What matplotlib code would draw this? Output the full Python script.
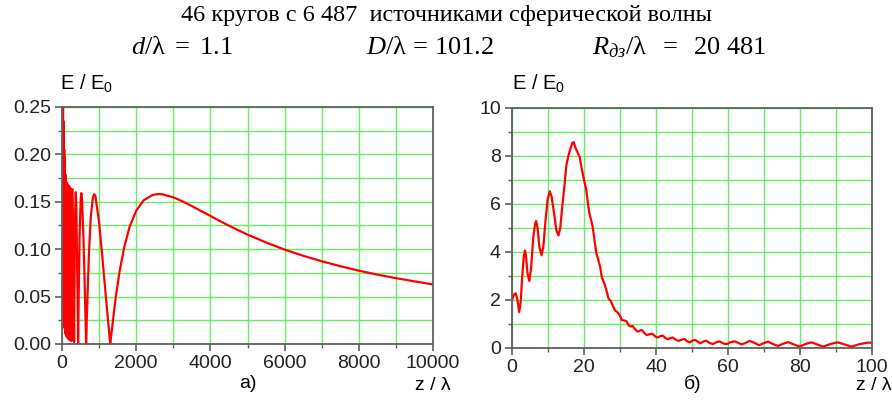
import numpy as np
import matplotlib
matplotlib.use('Agg')
import matplotlib.pyplot as plt
from matplotlib.ticker import MultipleLocator

plt.rcParams['font.family'] = ['Liberation Sans', 'DejaVu Sans']
plt.rcParams['mathtext.fontset'] = 'custom'
plt.rcParams['mathtext.rm'] = 'Liberation Serif'
plt.rcParams['mathtext.it'] = 'Liberation Serif:italic'
plt.rcParams['mathtext.sf'] = 'Liberation Sans'

# panel a) : E/E0 vs z/lambda, 0..10000
z_a = [5, 8, 12, 16, 20, 24, 28, 32, 36, 40, 44, 48, 52, 56, 60, 63, 66, 67.5, 69, 71,
       73, 75, 78, 80, 83, 85, 88, 91, 95, 98, 102, 107, 111, 116, 122, 128, 135, 142,
       151, 160, 171, 183, 197, 213, 233, 256, 284, 326,
       335, 355, 372, 385, 410, 428, 435,
       445, 475, 505, 521, 540, 580, 620, 640, 650,
       675, 725, 775, 830, 868, 900, 1000, 1100, 1200, 1275, 1300,
       1325, 1450, 1550, 1675, 1825, 2000, 2200, 2450, 2600, 2700, 3000, 3250, 3500, 3750,
       4000, 4250, 4500, 4750, 5000, 5500, 6000, 6500, 7000, 7500, 8000, 8500, 9000,
       9500, 10000]
e_a = [0.32, 0.04, 0.29, 0.04, 0.27, 0.035, 0.255, 0.03, 0.235, 0.03, 0.225, 0.025, 0.215,
       0.025, 0.205, 0.02, 0.197, 0.02, 0.192, 0.018, 0.187, 0.017, 0.183, 0.015, 0.18,
       0.014, 0.178, 0.012, 0.175, 0.011, 0.172, 0.01, 0.171, 0.009, 0.17, 0.008, 0.169,
       0.007, 0.168, 0.006, 0.167, 0.005, 0.166, 0.004, 0.164, 0.003, 0.163, 0.002,
       0.055, 0.137, 0.16, 0.147, 0.083, 0.021, 0.0,
       0.036, 0.115, 0.153, 0.159, 0.152, 0.110, 0.049, 0.017, 0.0,
       0.035, 0.0945, 0.1335, 0.154, 0.158, 0.156, 0.128, 0.086, 0.042, 0.0105, 0.0,
       0.0086, 0.050, 0.076, 0.1016, 0.1238, 0.1405, 0.1515, 0.1572, 0.158, 0.1578, 0.1546,
       0.1503, 0.1454, 0.1401, 0.135, 0.1297, 0.1247, 0.1199, 0.1153, 0.107, 0.0995,
       0.093, 0.0872, 0.082, 0.0773, 0.0731, 0.0694, 0.066, 0.0628]

# panel б) : E/E0 vs z/lambda, 0..100
z_b = [0.0, 0.5, 1.0, 1.5, 2.0, 2.4, 2.9, 3.3, 3.6, 3.9, 4.3, 4.8, 5.3, 5.9, 6.4, 6.7, 7.1,
       7.6, 8.2, 8.7, 9.3, 9.9, 10.5, 11.0, 11.7, 12.3, 12.9, 13.4, 14.0, 14.6, 15.1, 15.6,
       16.2, 16.8, 17.1, 17.6, 18.2, 18.8, 19.4, 20.0, 20.6, 21.1, 21.5, 22.0, 22.4, 22.9,
       23.4, 24.0, 24.5, 25.0, 25.6, 26.2, 26.8, 27.4, 28.0, 28.6, 29.3, 29.9, 30.5, 31.2,
       31.8, 32.4, 33.0, 33.5, 34.1, 34.8, 35.4, 36.0, 36.7, 37.4, 38.2, 39.0, 39.8, 40.5,
       41.2, 41.9, 42.6, 43.3, 44.0, 44.7, 45.5, 46.3, 47.1, 47.9, 48.7, 49.4, 50.2, 50.9,
       51.6, 52.3, 53.1, 53.9, 54.8, 55.8, 56.7, 57.6, 58.6, 59.6, 60.6, 61.8, 62.8, 63.8,
       64.9, 66.0, 67.3, 68.6, 69.8, 71.1, 72.5, 73.9, 75.3, 76.7, 78.3, 79.9, 81.5, 83.2,
       84.8, 86.4, 88.4, 90.4, 92.4, 94.3, 96.7, 99.0, 100.0]
e_b = [1.98, 2.2, 2.27, 2.0, 1.48, 1.9, 3.1, 3.85, 4.05, 3.8, 3.1, 2.78, 3.3, 4.6, 5.15,
       5.28, 5.0, 4.2, 3.85, 4.2, 5.3, 6.2, 6.52, 6.3, 5.6, 4.9, 4.68, 5.0, 5.95, 6.8, 7.6,
       7.97, 8.3, 8.55, 8.58, 8.35, 8.15, 7.95, 7.45, 7.0, 6.6, 6.0, 5.6, 5.3, 5.05, 4.5,
       3.95, 3.65, 3.35, 2.9, 2.7, 2.4, 2.05, 1.95, 1.75, 1.55, 1.48, 1.35, 1.15, 1.13,
       1.1, 0.93, 0.88, 0.9, 0.78, 0.67, 0.7, 0.74, 0.62, 0.52, 0.56, 0.58, 0.46, 0.42,
       0.48, 0.5, 0.4, 0.35, 0.4, 0.42, 0.33, 0.28, 0.33, 0.36, 0.26, 0.22, 0.3, 0.32,
       0.24, 0.18, 0.25, 0.29, 0.2, 0.15, 0.22, 0.26, 0.18, 0.14, 0.22, 0.26, 0.2, 0.13,
       0.2, 0.28, 0.2, 0.1, 0.18, 0.25, 0.15, 0.07, 0.16, 0.23, 0.13, 0.04, 0.15, 0.22,
       0.13, 0.04, 0.15, 0.22, 0.13, 0.04, 0.15, 0.21, 0.2]

fig = plt.figure(figsize=(8.92, 4), dpi=100)
ax1 = fig.add_axes([0.0695, 0.14, 0.416, 0.593])
ax2 = fig.add_axes([0.574, 0.131, 0.4036, 0.599])

grid_c = '#66ee66'
spine_c = '#606060'


def style(ax, xmaj, xmin, ymaj, ymin):
    ax.xaxis.set_major_locator(MultipleLocator(xmaj))
    ax.xaxis.set_minor_locator(MultipleLocator(xmin))
    ax.yaxis.set_major_locator(MultipleLocator(ymaj))
    ax.yaxis.set_minor_locator(MultipleLocator(ymin))
    ax.grid(True, which='both', color=grid_c, lw=1.0)
    ax.set_axisbelow(True)
    for s in ax.spines.values():
        s.set_color(spine_c)
        s.set_linewidth(1.3)
    ax.tick_params(which='both', direction='out', color=spine_c, labelsize=14,
                   labelcolor='#222222', top=False, right=False)
    ax.tick_params(which='major', length=5, width=1.2, pad=3)
    ax.tick_params(which='minor', length=3, width=1.0)


ax1.plot(z_a, e_a, color='#ff0000', lw=1.6)
ax1.set_xlim(0, 10000)
ax1.set_ylim(0, 0.25)
style(ax1, 2000, 1000, 0.05, 0.025)
ax1.yaxis.set_major_formatter(plt.FormatStrFormatter('%.2f'))

ax2.plot(z_b, e_b, color='#ff0000', lw=1.6)
ax2.set_xlim(0, 100)
ax2.set_ylim(0, 10)
style(ax2, 20, 10, 2, 1)

# axis captions
fig.text(60 / 892, 1 - 83 / 400, r'E / E$_\mathsf{0}$', fontsize=14.5, ha='left', va='center')
fig.text(512 / 892, 1 - 83 / 400, r'E / E$_\mathsf{0}$', fontsize=14.5, ha='left', va='center')
fig.text(451 / 892, 1 - 385 / 400, 'z / λ', fontsize=14, ha='right', va='center')
fig.text(892 / 892, 1 - 385 / 400, 'z / λ', fontsize=14, ha='right', va='center')
fig.text(248 / 892, 1 - 384 / 400, 'а)', fontsize=14, ha='center', va='center')
fig.text(693 / 892, 1 - 384 / 400, 'б)', fontsize=14, ha='center', va='center')

# header
fig.text(0.5, 1 - 15 / 400, '46 кругов с 6 487  источниками сферической волны',
         fontsize=17.5, family='Liberation Serif', ha='center', va='center')
fig.text(131 / 892, 1 - 47 / 400, r'$d/\mathrm{\lambda}\ =\ 1.1$', fontsize=19, ha='left', va='center')
fig.text(366 / 892, 1 - 47 / 400, r'$D/\mathrm{\lambda}\,=\,101.2$', fontsize=19, ha='left', va='center')
fig.text(592 / 892, 1 - 47 / 400, r'$R_{дз}/\mathrm{\lambda}\ \ =\ \ 20\ 481$', fontsize=19, ha='left', va='center')

fig.savefig('out.png', dpi=100)
